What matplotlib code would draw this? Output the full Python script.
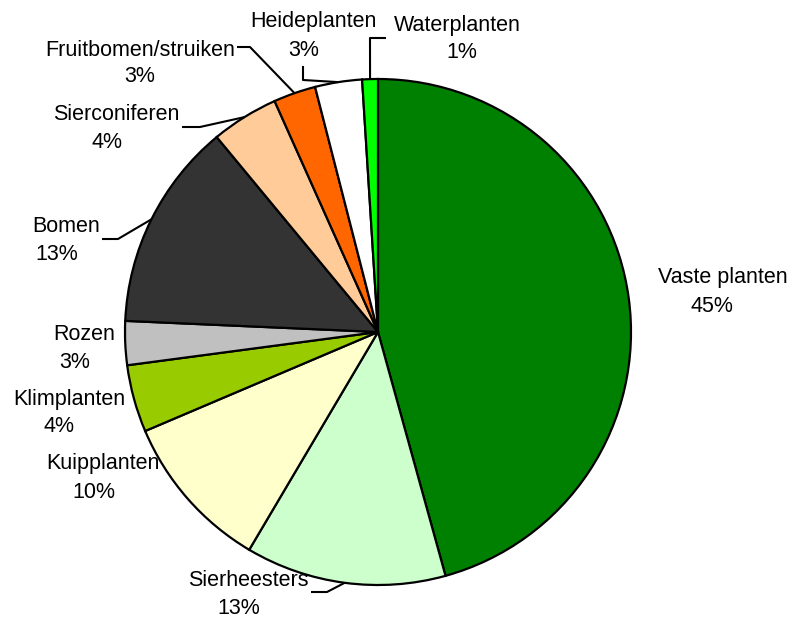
import matplotlib
matplotlib.use("Agg")
import matplotlib.pyplot as plt
import numpy as np

categories = ["Vaste planten", "Sierheesters", "Kuipplanten", "Klimplanten", "Rozen",
              "Bomen", "Sierconiferen", "Fruitbomen/struiken", "Heideplanten", "Waterplanten"]
values = [45.7, 12.8, 10.1, 4.3, 2.8, 13.3, 4.3, 2.7, 3.0, 1.0]
pct_labels = ["45%", "13%", "10%", "4%", "3%", "13%", "4%", "3%", "3%", "1%"]
colors = ["#008000", "#CCFFCC", "#FFFFCC", "#99CC00", "#C0C0C0",
          "#333333", "#FFCC99", "#FF6600", "#FFFFFF", "#00FF00"]

# label text centres (pixel coords, y down): (name x, name y, pct x, pct y)
label_pos = {
    "Vaste planten": (723, 276, 712, 304),
    "Sierheesters": (248, 579, 239, 607),
    "Kuipplanten": (103, 462, 94, 490),
    "Klimplanten": (69, 398, 59, 425),
    "Rozen": (84, 332, 75, 360),
    "Bomen": (66, 225, 57, 253),
    "Sierconiferen": (116, 113, 107, 141),
    "Fruitbomen/struiken": (140, 48, 140, 75),
    "Heideplanten": (313, 20, 304, 48),
    "Waterplanten": (457, 24, 462, 51),
}
leader = {
    "Sierheesters": [(327, 592), (311, 592)],
    "Bomen": [(118, 239), (102, 239)],
    "Sierconiferen": [(200, 127), (182, 127)],
    "Fruitbomen/struiken": [(250, 47), (237, 47)],
    "Heideplanten": [(303, 80), (303, 66)],
    "Waterplanten": [(370, 38), (386, 38)],
}

W, H = 794, 621
fig = plt.figure(figsize=(W / 100, H / 100), dpi=100)
ax = fig.add_axes([0, 0, 1, 1])

cx, cy, r = 378, H - 332, 253
wedges, _ = ax.pie(values, colors=colors, startangle=90, counterclock=False,
                   center=(cx, cy), radius=r, frame=True,
                   wedgeprops=dict(edgecolor="black", linewidth=1.6))
ax.set_xlim(0, W)
ax.set_ylim(0, H)
ax.set_aspect("equal")
ax.axis("off")

font = dict(family=["Liberation Sans", "DejaVu Sans"], size=15.5, color="black")
base = 7.5  # cap-centre to baseline offset in px
for w, cat, pl in zip(wedges, categories, pct_labels):
    nx, ny, px, py = label_pos[cat]
    ax.text(nx, H - ny - base, cat, ha="center", va="baseline", **font)
    ax.text(px, H - py - base, pl, ha="center", va="baseline", **font)
    if cat in leader:
        mid = np.deg2rad((w.theta1 + w.theta2) / 2)
        sx, sy = cx + r * np.cos(mid), cy + r * np.sin(mid)
        pts = [(sx, sy)] + [(qx, H - qy) for qx, qy in leader[cat]]
        xs, ys = zip(*pts)
        ax.plot(xs, ys, color="black", linewidth=1.5, solid_capstyle="butt")

fig.savefig("out.png", dpi=100, facecolor="white")
